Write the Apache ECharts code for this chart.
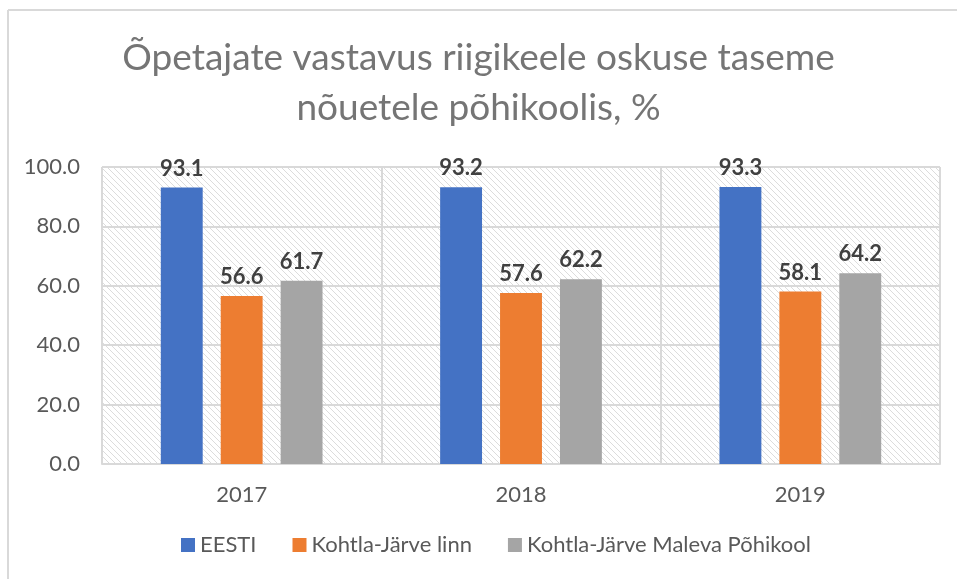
<!DOCTYPE html>
<html>
<head>
<meta charset="utf-8">
<script src="https://cdn.jsdelivr.net/npm/echarts@6/dist/echarts.min.js"></script>
<style>
  html, body { margin: 0; padding: 0; background: #fff; }
  #chart { width: 957px; height: 579px; }
</style>
</head>
<body>
<div id="chart"></div>
<script>
var years = ["2017", "2018", "2019"];
var eesti = [93.1, 93.2, 93.3];
var kjLinn = [56.6, 57.6, 58.1];
var maleva = [61.7, 62.2, 64.2];
var seriesNames = ["EESTI", "Kohtla-Järve linn", "Kohtla-Järve Maleva Põhikool"];
var colors = ["#4472c4", "#ed7d31", "#a5a5a5"];

// diagonal hatch for the plot area
var tile = document.createElement("canvas");
tile.width = 6;
tile.height = 6;
var tctx = tile.getContext("2d");
tctx.fillStyle = "#ffffff";
tctx.fillRect(0, 0, 6, 6);
tctx.strokeStyle = "#dcdcdc";
tctx.lineWidth = 1;
tctx.beginPath();
tctx.moveTo(-1, -1); tctx.lineTo(7, 7);
tctx.moveTo(-7, -1); tctx.lineTo(1, 7);
tctx.moveTo(5, -1); tctx.lineTo(13, 7);
tctx.stroke();

var chart = echarts.init(document.getElementById("chart"));

function barSeries(name, data, color) {
  return {
    name: name,
    type: "bar",
    data: data,
    barWidth: "15%",
    barGap: "43%",
    itemStyle: { color: color },
    label: {
      show: true,
      position: "top",
      distance: 8,
      formatter: function (p) { return p.value.toFixed(1); },
      fontFamily: "Lato",
      fontWeight: "bold",
      fontSize: 22,
      color: "#404040"
    }
  };
}

var option = {
  animation: false,
  textStyle: { fontFamily: "Lato" },
  title: {
    text: "Õpetajate vastavus riigikeele oskuse taseme\nnõuetele põhikoolis, %",
    left: "center",
    top: 28,
    textStyle: {
      fontFamily: "Lato",
      fontWeight: "normal",
      fontSize: 37,
      lineHeight: 50,
      color: "#757575"
    }
  },
  legend: {
    bottom: 18,
    left: 176,
    itemWidth: 14,
    itemHeight: 14,
    itemGap: 36,
    icon: "rect",
    textStyle: { fontFamily: "Lato", fontSize: 22, color: "#595959" },
    data: seriesNames
  },
  grid: {
    left: 102,
    right: 17,
    top: 167,
    bottom: 115,
    show: true,
    borderWidth: 0,
    backgroundColor: { image: tile, repeat: "repeat" }
  },
  xAxis: {
    type: "category",
    data: years,
    axisLine: { show: true, lineStyle: { color: "#d9d9d9", width: 2 } },
    axisTick: { show: false },
    splitLine: { show: true, lineStyle: { color: "#d9d9d9", width: 2 } },
    axisLabel: { fontSize: 22, color: "#595959", margin: 20 }
  },
  yAxis: {
    type: "value",
    min: 0,
    max: 100,
    interval: 20,
    axisLine: { show: false },
    axisTick: { show: false },
    splitLine: { lineStyle: { color: "#d9d9d9", width: 2 } },
    axisLabel: {
      fontSize: 22,
      color: "#595959",
      margin: 22,
      formatter: function (v) { return v.toFixed(1); }
    }
  },
  graphic: [
    { type: "line", shape: { x1: 8, y1: 10, x2: 8, y2: 579 }, style: { stroke: "#d9d9d9", lineWidth: 2 } },
    { type: "line", shape: { x1: 8, y1: 10, x2: 957, y2: 10 }, style: { stroke: "#d9d9d9", lineWidth: 2 } }
  ],
  series: [
    barSeries(seriesNames[0], eesti, colors[0]),
    barSeries(seriesNames[1], kjLinn, colors[1]),
    barSeries(seriesNames[2], maleva, colors[2])
  ]
};

chart.setOption(option);
</script>
</body>
</html>
